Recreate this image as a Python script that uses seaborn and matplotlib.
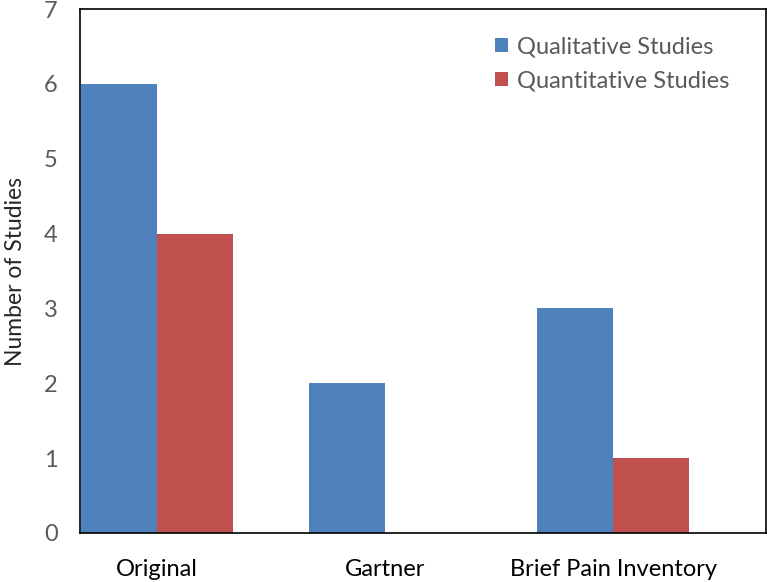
import pandas as pd
import seaborn as sns
import matplotlib.pyplot as plt

categories = ['Original', 'Gartner', 'Brief Pain Inventory']
qualitative = [6, 2, 3]
quantitative = [4, 0, 1]
series = ['Qualitative Studies', 'Quantitative Studies']

df = pd.DataFrame({
    'category': categories * 2,
    'series': [series[0]] * 3 + [series[1]] * 3,
    'value': qualitative + quantitative,
})

sns.set_style('white')
plt.rcParams['font.family'] = ['Lato', 'DejaVu Sans']

fig = plt.figure(figsize=(7.67, 5.82), dpi=100)
ax = fig.add_axes([0.1043, 0.0842, 0.8944, 0.9003])

sns.barplot(data=df, x='category', y='value', hue='series', ax=ax,
            palette=['#4F81BD', '#C0504D'], width=0.667, saturation=1,
            linewidth=0)

ax.set_xlim(-0.338, 2.67)
ax.set_ylim(0, 7)
ax.set_yticks(range(0, 8))
ax.tick_params(axis='y', labelsize=17, labelcolor='#595959', length=0, pad=16)
ax.tick_params(axis='x', labelsize=17, labelcolor='black', length=0, pad=19)
ax.set_xlabel('')
ax.set_ylabel('Number of Studies', fontsize=16.5, labelpad=13)

for s in ax.spines.values():
    s.set_visible(True)
    s.set_color('black')
    s.set_linewidth(1.2)

leg = ax.legend(loc='upper right', bbox_to_anchor=(0.977, 0.988), frameon=False,
                fontsize=17, handlelength=0.55, handleheight=0.55,
                handletextpad=0.35, labelspacing=0.55)
for t in leg.get_texts():
    t.set_color('#595959')

plt.savefig('out.png', dpi=100)
plt.close()
